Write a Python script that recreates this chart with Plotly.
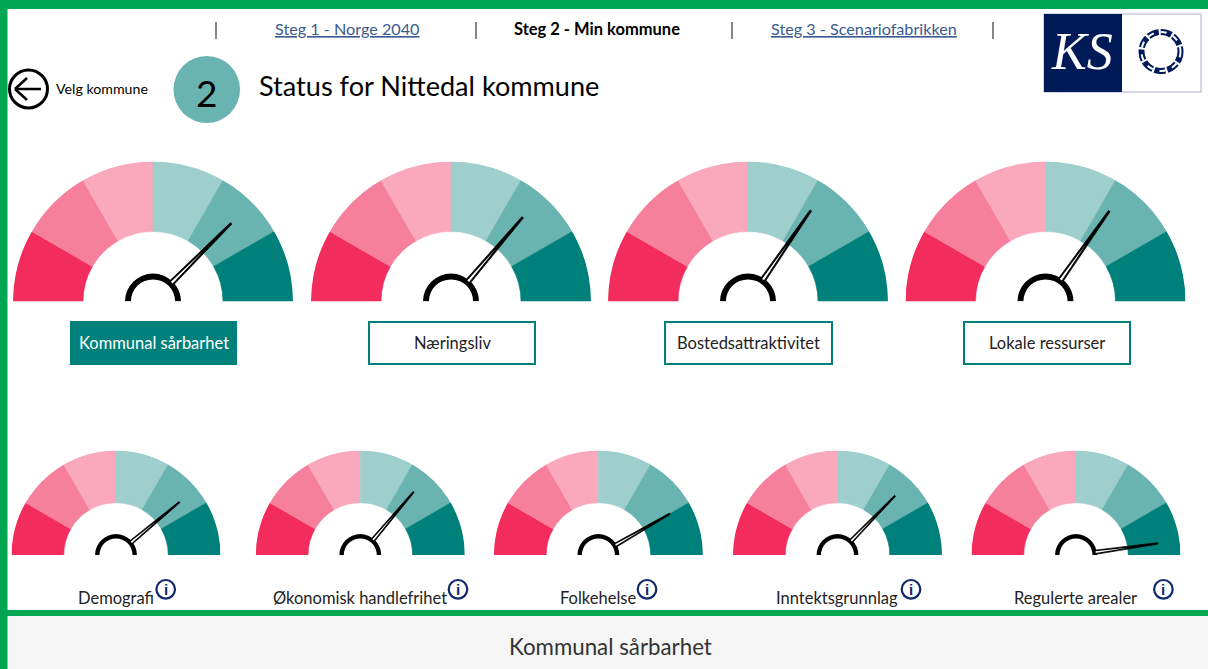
import plotly.graph_objects as go

W, H = 1208, 669

# ---- data ----
SECTOR_THETA = [15, 45, 75, 105, 135, 165]
SECTOR_WIDTH = [30, 30, 30, 30, 30, 30]
SECTOR_COLORS = ["#f22c5c", "#f6809c", "#faa9bd", "#9ecfcd", "#69b4b0", "#00807a"]
TOP_LABELS = ["Kommunal sårbarhet", "Næringsliv", "Bostedsattraktivitet", "Lokale ressurser"]
TOP_NEEDLES = [135.0, 130.4, 124.6, 125.2]
TOP_CENTERS = [153, 451, 748, 1045.5]
BOTTOM_LABELS = ["Demografi", "Økonomisk handlefrihet", "Folkehelse", "Inntektsgrunnlag", "Regulerte arealer"]
BOTTOM_NEEDLES = [140.2, 130.2, 150.0, 134.2, 171.9]
BOTTOM_CENTERS = [116, 360.3, 598.4, 837.5, 1076]
BOTTOM_LABEL_X = [115.7, 360, 597.5, 837, 1075]
INFO_X = [165.7, 458, 647, 911, 1163.4]
TOP_BUTTON_X = [(70, 237), (369, 535), (665, 832), (964, 1130)]
NAV_SEPARATORS = [216, 476, 732, 993]
NAV_LABELS = ["<u>Steg 1 - Norge 2040</u>", "<b>Steg 2 - Min kommune</b>", "<u>Steg 3 - Scenariofabrikken</u>"]
NAV_X = [347, 597, 863.5]
NAV_COLORS = ["#3b5a8f", "#000000", "#3b5a8f"]

FONT = "Lato"
GREEN = "#00a651"
TEAL = "#00807a"
NAVY = "#001a57"


def px(x):
    return x / W


def py(y):
    return 1 - y / H


fig = go.Figure()
shapes = []
annotations = []


def rect(x0, y0, x1, y1, fill=None, line=None, lw=0, kind="rect", dash=None):
    shapes.append(dict(type=kind, xref="paper", yref="paper", x0=px(x0), x1=px(x1), y0=py(y0), y1=py(y1),
                       fillcolor=fill or "rgba(0,0,0,0)",
                       line=dict(color=line or "rgba(0,0,0,0)", width=lw, dash=dash or "solid"),
                       layer="below"))


def text(x, y, s, size, color="#000000", family=FONT, anchor="center"):
    annotations.append(dict(xref="paper", yref="paper", x=px(x), y=py(y), text=s, showarrow=False,
                            xanchor=anchor, yanchor="middle", font=dict(family=family, size=size, color=color)))


def gauge(index, cx, base_y, radius, needle):
    name = "polar" if index == 0 else f"polar{index + 1}"
    fig.add_trace(go.Barpolar(theta=SECTOR_THETA, width=SECTOR_WIDTH, r=[0.5] * 6, base=[0.5] * 6,
                              marker=dict(color=SECTOR_COLORS, line=dict(width=0.6, color=SECTOR_COLORS)),
                              subplot=name, showlegend=False, hoverinfo="skip"))
    fig.add_trace(go.Barpolar(theta=[90], width=[180], r=[0.042], base=[0.158],
                              marker=dict(color="#000000", line=dict(width=0)),
                              subplot=name, showlegend=False, hoverinfo="skip"))
    fig.add_trace(go.Scatterpolar(r=[0.19, 0.79, 0.79, 0.19, 0.19],
                                  theta=[needle - 6, needle - 0.5, needle + 0.5, needle + 6, needle - 6],
                                  mode="lines", fill="toself", fillcolor="#000000",
                                  line=dict(width=0.8, color="#000000"),
                                  subplot=name, showlegend=False, hoverinfo="skip"))
    fig.add_trace(go.Scatterpolar(r=[0.19, 0.5, 0.19, 0.19], theta=[needle - 2.6, needle, needle + 2.6, needle - 2.6],
                                  mode="lines", fill="toself", fillcolor="#ffffff", line=dict(width=0, color="#ffffff"),
                                  subplot=name, showlegend=False, hoverinfo="skip"))
    return name, dict(
        domain=dict(x=[px(cx - radius), px(cx + radius)], y=[py(base_y), py(base_y - radius)]),
        sector=[0, 180], bgcolor="rgba(0,0,0,0)",
        radialaxis=dict(visible=False, range=[0, 1]),
        angularaxis=dict(visible=False, rotation=180, direction="clockwise"),
        bargap=0,
    )


polars = {}
for i, (cx, n) in enumerate(zip(TOP_CENTERS, TOP_NEEDLES)):
    k, v = gauge(i, cx, 301.5, 140, n)
    polars[k] = v
for j, (cx, n) in enumerate(zip(BOTTOM_CENTERS, BOTTOM_NEEDLES)):
    k, v = gauge(j + 4, cx, 555, 104.5, n)
    polars[k] = v

# frame and footer
rect(7, 616, W, H, fill="#f6f6f6")
rect(0, 0, 7.5, H, fill=GREEN)
rect(0, 0, W, 9, fill=GREEN)
rect(0, 610, W, 616, fill=GREEN)
text(610, 646, "Kommunal sårbarhet", 22.3, "#333333")

# navigation
for x in NAV_SEPARATORS:
    rect(x, 22, x, 39, line="#444444", lw=1.3, kind="line")
for x, s, c, sz in zip(NAV_X, NAV_LABELS, NAV_COLORS, [16.2, 16.5, 16.2]):
    text(x, 28.5, s, sz, c)

# header row
rect(9.5, 70, 47.5, 108, line="#000000", lw=3, kind="circle")
rect(15, 89, 41, 89, line="#000000", lw=2.5, kind="line")
rect(15, 89, 27, 78, line="#000000", lw=2.5, kind="line")
rect(15, 89, 27, 100, line="#000000", lw=2.5, kind="line")
text(102, 89, "Velg kommune", 14.2)
rect(173.5, 56, 240, 123, fill="#69b4b0", kind="circle")
text(206.5, 92, "2", 37)
text(428.5, 86, "Status for Nittedal kommune", 27.1)

# logo
rect(1044, 14, 1201, 92, fill="#ffffff", line="#a9aecb", lw=1)
rect(1044, 14, 1122, 92, fill=NAVY)
text(1082, 52, "<i>KS</i>", 52, "#ffffff", family="Liberation Serif")
rect(1141.5, 32, 1180.5, 71, line=NAVY, lw=6, kind="circle", dash="11px,2px")
rect(1141.5, 32, 1180.5, 71, line="#ffffff", lw=2, kind="circle", dash="6px,7px")

# top buttons
for t, (x0, x1) in enumerate(TOP_BUTTON_X):
    if t == 0:
        rect(x0, 321, x1, 365, fill=TEAL)
    else:
        rect(x0, 322, x1, 364, fill="#ffffff", line=TEAL, lw=2)
    text((x0 + x1) / 2, 342.5, TOP_LABELS[t], 16.5, "#ffffff" if t == 0 else "#222222")

# bottom labels and info icons
for x, s, ix in zip(BOTTOM_LABEL_X, BOTTOM_LABELS, INFO_X):
    text(x, 597.5, s, 16.5, "#222222")
    rect(ix - 9.3, 580, ix + 9.3, 598.6, fill="#ffffff", line="#10296e", lw=2.2, kind="circle")
    text(ix, 589.5, "<b>i</b>", 15, "#10296e", family="Liberation Sans")

fig.update_layout(width=W, height=H, margin=dict(l=0, r=0, t=0, b=0), autosize=False,
                  paper_bgcolor="#ffffff", plot_bgcolor="#ffffff", showlegend=False,
                  shapes=shapes, annotations=annotations, **polars)

fig.write_html("out.html", config={"displayModeBar": False},
               post_script="document.body.style.margin='0';document.body.style.overflow='hidden';")
